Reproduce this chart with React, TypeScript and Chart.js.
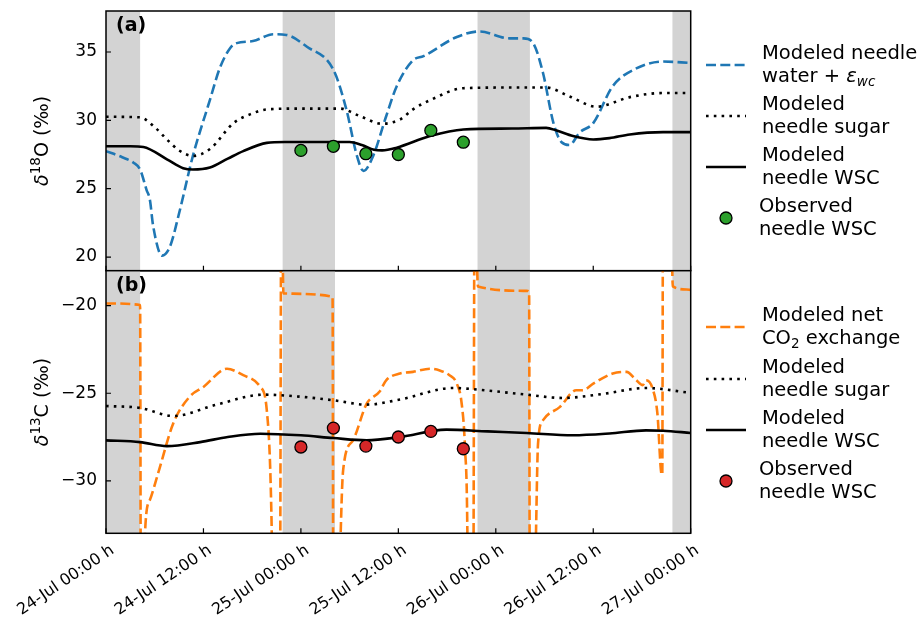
import React, { useEffect, useRef } from 'react';
import { Chart, registerables } from 'chart.js';

Chart.register(...registerables);

const FAMILY = '"DejaVu Sans", "Liberation Sans", sans-serif';

// x axis: hours after 24-Jul 00:00
const xTickHours = [0, 12, 24, 36, 48, 60, 72];
const xTickLabels = ['24-Jul 00:00 h', '24-Jul 12:00 h', '25-Jul 00:00 h', '25-Jul 12:00 h', '26-Jul 00:00 h', '26-Jul 12:00 h', '27-Jul 00:00 h'];
const nightStart = [0, 21.75, 45.75, 69.75];
const nightEnd = [4.2, 28.2, 52.2, 72];

// panel (a): d18O
const yTicksA = [20, 25, 30, 35];
const waterHours = [0, 2, 3.4, 4.2, 5.0, 5.4, 5.8, 6.9, 7.9, 9.0, 10.7, 12.8, 14.0, 15.3, 16.1, 18.1, 20.6, 22.2, 24.7, 28.0, 29.6, 30.9, 31.7, 32.9, 34.5, 35.8, 37.8, 39.1, 43.2, 46.0, 49.7, 51.4, 52.6, 53.8, 55.1, 56.1, 57.1, 58.3, 60.0, 62.4, 65.3, 68.6, 72];
const waterO18 = [27.75, 27.3, 26.9, 26.4, 24.9, 24.2, 22.3, 20.1, 20.8, 23.2, 27.4, 31.5, 33.8, 35.3, 35.65, 35.8, 36.3, 36.25, 35.4, 33.7, 30.8, 27.4, 26.3, 27.4, 30.3, 32.5, 34.4, 34.7, 36.1, 36.5, 36.0, 36.0, 35.65, 33.5, 29.8, 28.4, 28.2, 29.1, 29.8, 32.5, 33.8, 34.3, 34.2];
const sugarHoursA = [0, 4.2, 6.0, 7.5, 9.0, 10.7, 12.8, 15.7, 18.0, 19.8, 24.0, 28.8, 31.3, 34.0, 36.2, 37.8, 40.0, 44.0, 50.0, 54.2, 57.1, 60.4, 64.5, 68.6, 72];
const sugarO18 = [30.26, 30.22, 29.5, 28.6, 27.8, 27.4, 27.9, 29.8, 30.5, 30.8, 30.86, 30.86, 30.3, 29.75, 30.06, 30.8, 31.5, 32.35, 32.4, 32.4, 31.75, 31.0, 31.7, 32.0, 32.0];
const wscHoursA = [0, 3.0, 4.6, 7.5, 9.5, 10.7, 12.8, 15.0, 16.9, 19.8, 22.0, 30.0, 31.5, 33.0, 34.0, 35.8, 39.9, 44.0, 50.0, 54.2, 55.5, 57.5, 60.0, 62.0, 64.5, 68.6, 72];
const wscO18 = [28.1, 28.1, 28.05, 27.15, 26.5, 26.4, 26.55, 27.2, 27.75, 28.35, 28.42, 28.42, 28.2, 27.85, 27.8, 28.0, 28.85, 29.33, 29.4, 29.45, 29.25, 28.85, 28.6, 28.7, 28.97, 29.14, 29.14];
const obsHours = [24, 28, 32, 36, 40, 44];
const obsO18 = [27.8, 28.1, 27.56, 27.5, 29.26, 28.4];

// panel (b): d13C
const yTicksB = [-30, -25, -20];
const co2Hours = [0, 4.2, 4.3, 4.6, 4.8, 5.4, 6.4, 8.3, 10.3, 12.0, 14.9, 16.9, 19.0, 19.8, 20.4, 20.6, 21.4, 21.6, 21.85, 27.9, 28.0, 28.6, 28.9, 29.2, 30.4, 32.1, 33.7, 34.5, 36.2, 37.8, 39.9, 41.1, 42.3, 43.2, 43.8, 44.2, 44.5, 44.6, 45.2, 45.4, 45.8, 51.8, 52.1, 52.2, 52.7, 52.95, 53.2, 53.8, 55.9, 57.9, 58.7, 60.0, 62.4, 64.1, 65.3, 66.1, 66.5, 67.3, 67.9, 68.4, 68.5, 68.6, 69.5, 69.8, 71.5, 72];
const co2C13 = [-19.87, -19.96, -40, -40, -33, -31.1, -29.6, -26.7, -25.2, -24.64, -23.6, -23.97, -24.64, -25.97, -32.65, -40, -40, -12, -19.3, -19.49, -40, -40, -33, -29.4, -27.7, -25.6, -24.9, -24.26, -23.87, -23.78, -23.6, -23.7, -23.97, -24.45, -25.6, -28.07, -33, -40, -40, -12, -18.9, -19.15, -19.2, -40, -40, -33, -27.88, -26.55, -25.78, -24.83, -24.83, -24.45, -23.87, -23.78, -24.26, -24.54, -24.26, -24.73, -26.16, -29.6, -29.65, -12, -12, -18.9, -19.07, -19.1];
const sugarHoursB = [0, 4.2, 8.3, 13.6, 19.4, 24.0, 28.0, 32.1, 36.2, 42.7, 47.0, 51.8, 56.3, 61.0, 66.5, 72];
const sugarC13 = [-25.73, -25.84, -26.3, -25.65, -25.08, -25.2, -25.4, -25.65, -25.36, -24.7, -24.85, -25.08, -25.27, -25.05, -24.7, -24.98];
const wscHoursB = [0, 4.2, 7.5, 11.6, 15.0, 19.0, 24.0, 28.0, 32.1, 36.2, 41.9, 47.0, 51.8, 57.5, 62.0, 66.5, 68.6, 72];
const wscC13 = [-27.69, -27.79, -28.02, -27.79, -27.5, -27.31, -27.4, -27.56, -27.69, -27.5, -27.08, -27.18, -27.27, -27.4, -27.3, -27.12, -27.14, -27.27];
const obsC13 = [-28.07, -26.99, -28.02, -27.5, -27.18, -28.17];

const BLUE = '#1f77b4';
const ORANGE = '#ff7f0e';
const GREEN = '#2ca02c';
const RED = '#d62728';
const LW = 2.6;
const DASH = [10, 4.3];
const DOT = [2.6, 5.2];

type Seg = { t: string; size?: number; style?: string; weight?: string; dy?: number };

function fontOf(s: Seg, base: number) {
  return `${s.style || 'normal'} ${s.weight || 'normal'} ${s.size || base}px ${FAMILY}`;
}

function drawRich(ctx: CanvasRenderingContext2D, segs: Seg[], x: number, y: number, align: 'left' | 'center', base: number) {
  let total = 0;
  segs.forEach((s) => { ctx.font = fontOf(s, base); total += ctx.measureText(s.t).width; });
  let cx = align === 'center' ? x - total / 2 : x;
  ctx.textAlign = 'left';
  ctx.textBaseline = 'alphabetic';
  segs.forEach((s) => {
    ctx.font = fontOf(s, base);
    ctx.fillText(s.t, cx, y + (s.dy || 0));
    cx += ctx.measureText(s.t).width;
  });
}

function pts(xs: number[], ys: number[]) {
  return xs.map((x, i) => ({ x, y: ys[i] }));
}

type LegendEntry = { kind: 'dash' | 'dot' | 'solid' | 'marker'; color: string; y: number; lines: Seg[][] };

type PanelSpec = {
  label: string;
  top: number;
  bottom: number;
  ymin: number;
  ymax: number;
  yTicks: number[];
  title: Seg[];
  legend: LegendEntry[];
  xLabels: boolean;
};

function fmtTick(v: number) {
  return v < 0 ? '\u2212' + String(-v) : String(v);
}

function panelPlugin(p: PanelSpec) {
  return {
    id: 'panel_' + p.label,
    beforeDatasetsDraw(chart: any) {
      const { ctx, chartArea: a, scales } = chart;
      const xs = scales.x;
      ctx.save();
      ctx.fillStyle = '#d3d3d3';
      nightStart.forEach((s, i) => {
        const x1 = Math.max(a.left, xs.getPixelForValue(s));
        const x2 = Math.min(a.right, xs.getPixelForValue(nightEnd[i]));
        ctx.fillRect(x1, a.top, x2 - x1, a.bottom - a.top);
      });
      ctx.restore();
    },
    afterDraw(chart: any) {
      const { ctx, chartArea: a, scales } = chart;
      const xs = scales.x;
      const ys = scales.y;
      ctx.save();
      ctx.strokeStyle = '#000';
      ctx.fillStyle = '#000';
      // frame
      ctx.lineWidth = 1.5;
      ctx.strokeRect(a.left, a.top, a.right - a.left, a.bottom - a.top);
      // ticks (inward)
      ctx.lineWidth = 1.2;
      ctx.beginPath();
      xTickHours.forEach((h) => {
        const x = xs.getPixelForValue(h);
        ctx.moveTo(x, a.bottom);
        ctx.lineTo(x, a.bottom - 5);
      });
      p.yTicks.forEach((v) => {
        const y = ys.getPixelForValue(v);
        ctx.moveTo(a.left, y);
        ctx.lineTo(a.left + 5, y);
      });
      ctx.stroke();
      // y tick labels
      ctx.font = `17px ${FAMILY}`;
      ctx.textAlign = 'right';
      ctx.textBaseline = 'middle';
      p.yTicks.forEach((v) => {
        ctx.fillText(fmtTick(v), a.left - 9, ys.getPixelForValue(v));
      });
      // x tick labels
      if (p.xLabels) {
        ctx.font = `16px ${FAMILY}`;
        ctx.textAlign = 'right';
        ctx.textBaseline = 'alphabetic';
        xTickHours.forEach((h, i) => {
          const x = xs.getPixelForValue(h);
          ctx.save();
          ctx.translate(x + 9, a.bottom + 19);
          ctx.rotate((-34 * Math.PI) / 180);
          ctx.fillText(xTickLabels[i], 0, 0);
          ctx.restore();
        });
      }
      // panel label
      ctx.font = `bold 19px ${FAMILY}`;
      ctx.textAlign = 'left';
      ctx.textBaseline = 'alphabetic';
      ctx.fillText(p.label, a.left + 10, a.top + 20);
      // y title
      ctx.save();
      ctx.translate(48, (a.top + a.bottom) / 2);
      ctx.rotate(-Math.PI / 2);
      drawRich(ctx, p.title, 0, 0, 'center', 19);
      ctx.restore();
      // legend
      const hx1 = 706;
      const hx2 = 746;
      p.legend.forEach((e) => {
        ctx.save();
        if (e.kind === 'marker') {
          ctx.beginPath();
          ctx.arc((hx1 + hx2) / 2, e.y, 6, 0, Math.PI * 2);
          ctx.fillStyle = e.color;
          ctx.fill();
          ctx.lineWidth = 1.3;
          ctx.strokeStyle = '#000';
          ctx.stroke();
        } else {
          ctx.beginPath();
          ctx.strokeStyle = e.color;
          ctx.lineWidth = LW;
          ctx.lineCap = 'butt';
          if (e.kind === 'dash') ctx.setLineDash(DASH);
          if (e.kind === 'dot') ctx.setLineDash(DOT);
          ctx.moveTo(hx1, e.y);
          ctx.lineTo(hx2, e.y);
          ctx.stroke();
        }
        ctx.restore();
        ctx.fillStyle = '#000';
        const tx = e.kind === 'marker' ? 759 : 762;
        e.lines.forEach((ln, li) => {
          drawRich(ctx, ln, tx, e.y - 6 + li * 23, 'left', 19.5);
        });
      });
      ctx.restore();
    },
  };
}

function lineDs(xs: number[], ys: number[], color: string, dash: number[], order: number) {
  return {
    data: pts(xs, ys),
    borderColor: color,
    backgroundColor: color,
    borderWidth: LW,
    borderDash: dash,
    borderCapStyle: 'butt',
    pointRadius: 0,
    pointHoverRadius: 0,
    fill: false,
    cubicInterpolationMode: 'monotone',
    order,
  };
}

function obsDs(xs: number[], ys: number[], color: string) {
  return {
    data: pts(xs, ys),
    showLine: false,
    pointRadius: 6,
    pointHoverRadius: 6,
    pointBackgroundColor: color,
    pointBorderColor: '#000',
    pointBorderWidth: 1.3,
    borderColor: '#000',
    backgroundColor: color,
    order: 0,
  };
}

function makeConfig(p: PanelSpec, datasets: any[]) {
  return {
    type: 'line',
    data: { datasets },
    options: {
      responsive: false,
      animation: false,
      devicePixelRatio: 1,
      events: [],
      layout: { padding: { left: 106, right: 229.3, top: p.top, bottom: 625 - p.bottom } },
      scales: {
        x: { type: 'linear', min: 0, max: 72, display: false },
        y: { type: 'linear', min: p.ymin, max: p.ymax, display: false },
      },
      plugins: { legend: { display: false }, tooltip: { enabled: false } },
    },
    plugins: [panelPlugin(p)],
  } as any;
}

const panelA: PanelSpec = {
  label: '(a)',
  top: 11,
  bottom: 270.7,
  ymin: 19,
  ymax: 38,
  yTicks: yTicksA,
  title: [{ t: 'δ', style: 'italic' }, { t: '18', size: 13.5, dy: -8 }, { t: 'O (‰)' }],
  xLabels: false,
  legend: [
    { kind: 'dash', color: BLUE, y: 65, lines: [[{ t: 'Modeled needle' }], [{ t: 'water + ' }, { t: 'ε', style: 'italic' }, { t: 'wc', style: 'italic', size: 13.5, dy: 4 }]] },
    { kind: 'dot', color: '#000', y: 116, lines: [[{ t: 'Modeled' }], [{ t: 'needle sugar' }]] },
    { kind: 'solid', color: '#000', y: 167, lines: [[{ t: 'Modeled' }], [{ t: 'needle WSC' }]] },
    { kind: 'marker', color: GREEN, y: 218, lines: [[{ t: 'Observed' }], [{ t: 'needle WSC' }]] },
  ],
};

const panelB: PanelSpec = {
  label: '(b)',
  top: 270.7,
  bottom: 533.3,
  ymin: -33,
  ymax: -18,
  yTicks: yTicksB,
  title: [{ t: 'δ', style: 'italic' }, { t: '13', size: 13.5, dy: -8 }, { t: 'C (‰)' }],
  xLabels: true,
  legend: [
    { kind: 'dash', color: ORANGE, y: 327, lines: [[{ t: 'Modeled net' }], [{ t: 'CO' }, { t: '2', size: 13.5, dy: 4 }, { t: ' exchange' }]] },
    { kind: 'dot', color: '#000', y: 379, lines: [[{ t: 'Modeled' }], [{ t: 'needle sugar' }]] },
    { kind: 'solid', color: '#000', y: 430, lines: [[{ t: 'Modeled' }], [{ t: 'needle WSC' }]] },
    { kind: 'marker', color: RED, y: 481, lines: [[{ t: 'Observed' }], [{ t: 'needle WSC' }]] },
  ],
};

export default function App() {
  const topRef = useRef<HTMLCanvasElement>(null);
  const botRef = useRef<HTMLCanvasElement>(null);

  useEffect(() => {
    const dsA = [
      obsDs(obsHours, obsO18, GREEN),
      lineDs(wscHoursA, wscO18, '#000', [], 1),
      lineDs(sugarHoursA, sugarO18, '#000', DOT, 2),
      lineDs(waterHours, waterO18, BLUE, DASH, 3),
    ];
    const dsB = [
      obsDs(obsHours, obsC13, RED),
      lineDs(wscHoursB, wscC13, '#000', [], 1),
      lineDs(sugarHoursB, sugarC13, '#000', DOT, 2),
      lineDs(co2Hours, co2C13, ORANGE, DASH, 3),
    ];
    const c1 = new Chart(topRef.current as HTMLCanvasElement, makeConfig(panelA, dsA));
    const c2 = new Chart(botRef.current as HTMLCanvasElement, makeConfig(panelB, dsB));
    return () => {
      c1.destroy();
      c2.destroy();
    };
  }, []);

  return (
    <div style={{ position: 'fixed', left: 0, top: 0, width: 920, height: 625, background: '#fff' }}>
      <canvas ref={topRef} width={920} height={625} style={{ position: 'absolute', left: 0, top: 0, width: 920, height: 625 }} />
      <canvas ref={botRef} width={920} height={625} style={{ position: 'absolute', left: 0, top: 0, width: 920, height: 625 }} />
    </div>
  );
}
